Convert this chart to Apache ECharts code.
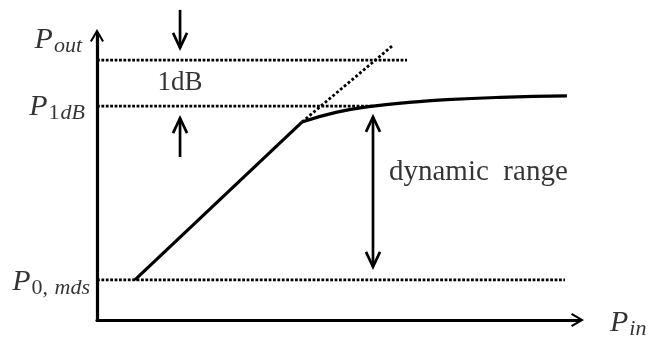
<!DOCTYPE html>
<html>
<head>
<meta charset="utf-8">
<title>Amplifier gain compression and dynamic range</title>
<script src="https://cdn.jsdelivr.net/npm/echarts@6/dist/echarts.min.js"></script>
<style>
  html, body { margin: 0; padding: 0; background: #ffffff; }
  #chart { width: 650px; height: 340px; }
</style>
</head>
<body>
<div id="chart"></div>
<script>
// Axis extents (arbitrary dB-like units for input and output power)
const pinRange = [0, 100];
const poutRange = [0, 100];

// Output power levels marked on the vertical axis
const levelPout = 91.5;   // P_out reference line (1 dB above P1dB)
const levelP1dB = 75.3;   // 1 dB compression point
const levelPmds = 14.1;   // minimum detectable signal

// How far each dotted level line runs along the input axis
const levelPoutEnd = 64.6;
const levelP1dBEnd = 57.5;
const levelPmdsEnd = 97.5;

// Linear (small-signal) part of the transfer curve
const linearPin = [7.9, 42.7];
const linearPout = [14.1, 69.7];

// Compressed part of the transfer curve, from the knee to saturation
const compPin = [42.7, 50.0, 57.5, 65.0, 72.9, 84.0, 97.9];
const compPout = [69.7, 73.2, 75.3, 76.6, 77.6, 78.4, 78.9];

// Extrapolated ideal linear response (dotted)
const idealPin = [42.7, 61.7];
const idealPout = [69.7, 96.8];

// Arrows: tail and tip positions
const gapArrowX = 17.3;
const gapArrowDown = [109.2, 95.8];
const gapArrowUp = [57.4, 71.1];
const rangeArrowX = 57.5;
const rangeArrowEnds = [18.7, 71.5];

// Text
const axisOutSub = 'out';
const axisInSub = 'in';
const p1dBSubNum = '1';
const p1dBSubUnit = 'dB';
const pmdsSubNum = '0, ';
const pmdsSubName = 'mds';
const gapText = '1dB';
const rangeText = 'dynamic  range';

const serif = "'Liberation Serif', 'Times New Roman', serif";
const zip = (xs, ys) => xs.map((x, i) => [x, ys[i]]);

// Open arrowhead with a short stem, pointing up in its own box
const arrowPath = 'path://M10,0 L20,17 L17.4,18.6 L11.5,8.1 L11.5,20 L8.5,20 L8.5,8.1 L2.6,18.6 L0,17 Z';

const richStyles = {
  P:   { fontFamily: serif, fontSize: 30, fontStyle: 'italic', color: '#000', lineHeight: 34 },
  sub: { fontFamily: serif, fontSize: 22, fontStyle: 'italic', color: '#000', lineHeight: 22, padding: [12, 0, 0, 1] },
  subUp: { fontFamily: serif, fontSize: 22, fontStyle: 'normal', color: '#000', lineHeight: 22, padding: [12, 0, 0, 1] }
};

function dottedLevel(name, level, end) {
  return {
    name: name, type: 'line', data: [[pinRange[0], level], [end, level]],
    symbol: 'none', silent: true, z: 2,
    lineStyle: { color: '#000', width: 2.8, type: [2.8, 1.6], cap: 'butt' }
  };
}

function renderArrow(params, api) {
  const a = api.coord([api.value(0), api.value(1)]);
  const b = api.coord([api.value(2), api.value(3)]);
  const both = api.value(4) === 2;
  const style = { stroke: '#000', lineWidth: 2.7, fill: null, lineJoin: 'miter' };
  const head = (tip, from) => {
    const dx = tip[0] - from[0], dy = tip[1] - from[1];
    const len = Math.hypot(dx, dy);
    const ux = dx / len, uy = dy / len;
    const L = 15, W = 7;
    return {
      type: 'polyline',
      shape: { points: [
        [tip[0] - L * ux - W * uy, tip[1] - L * uy + W * ux],
        tip,
        [tip[0] - L * ux + W * uy, tip[1] - L * uy - W * ux]
      ] },
      style: style
    };
  };
  const children = [{ type: 'polyline', shape: { points: [a, b] }, style: style }, head(b, a)];
  if (both) children.push(head(a, b));
  return { type: 'group', children: children };
}

const chart = echarts.init(document.getElementById('chart'), null, { renderer: 'canvas' });

chart.setOption({
  animation: false,
  backgroundColor: '#ffffff',
  grid: { left: 97, right: 73, top: 36, bottom: 20, containLabel: false },
  xAxis: {
    type: 'value', min: pinRange[0], max: pinRange[1],
    axisLine: { show: true, onZero: false, symbol: ['none', arrowPath], symbolSize: [14, 15],
                lineStyle: { color: '#000', width: 3.2 } },
    axisTick: { show: false }, axisLabel: { show: false }, splitLine: { show: false }
  },
  yAxis: {
    type: 'value', min: poutRange[0], max: poutRange[1],
    axisLine: { show: true, onZero: false, symbol: ['none', arrowPath], symbolSize: [14, 14],
                lineStyle: { color: '#000', width: 3.2 } },
    axisTick: { show: false }, axisLabel: { show: false }, splitLine: { show: false }
  },
  series: [
    dottedLevel('Pout level', levelPout, levelPoutEnd),
    dottedLevel('P1dB level', levelP1dB, levelP1dBEnd),
    dottedLevel('Pmds level', levelPmds, levelPmdsEnd),
    {
      name: 'ideal', type: 'line', data: zip(idealPin, idealPout), symbol: 'none', silent: true, z: 2,
      lineStyle: { color: '#000', width: 2.8, type: [2.8, 2.2], cap: 'butt' }
    },
    {
      name: 'linear', type: 'line', data: zip(linearPin, linearPout), symbol: 'none', silent: true, z: 3,
      lineStyle: { color: '#000', width: 3.2 }
    },
    {
      name: 'compression', type: 'line', data: zip(compPin, compPout), symbol: 'none', silent: true, z: 3,
      smooth: 0.5,
      lineStyle: { color: '#000', width: 3.2 }
    },
    {
      name: 'arrows', type: 'custom', clip: false, silent: true, z: 4,
      renderItem: renderArrow,
      data: [
        [gapArrowX, gapArrowDown[0], gapArrowX, gapArrowDown[1], 1],
        [gapArrowX, gapArrowUp[0], gapArrowX, gapArrowUp[1], 1],
        [rangeArrowX, rangeArrowEnds[0], rangeArrowX, rangeArrowEnds[1], 2]
      ]
    },
    {
      name: 'labels', type: 'scatter', symbolSize: 0, silent: true, z: 5, clip: false,
      label: { show: true, color: '#000', rich: richStyles },
      data: [
        { value: [pinRange[0], levelPout],
          label: { position: 'left', distance: 0, offset: [-15, -20.2], formatter: '{P|P}{sub|' + axisOutSub + '}' } },
        { value: [pinRange[0], levelP1dB],
          label: { position: 'left', distance: 0, offset: [-12, 0.8], formatter: '{P|P}{subUp|' + p1dBSubNum + '}{sub|' + p1dBSubUnit + '}' } },
        { value: [pinRange[0], levelPmds],
          label: { position: 'left', distance: 0, offset: [-7, 1.9], formatter: '{P|P}{subUp|' + pmdsSubNum + '}{sub|' + pmdsSubName + '}' } },
        { value: [pinRange[1], poutRange[0]],
          label: { position: 'right', distance: 0, offset: [33, 2.9], formatter: '{P|P}{sub|' + axisInSub + '}' } },
        { value: [gapArrowX, (levelPout + levelP1dB) / 2],
          label: { position: 'inside', offset: [0, -0.3], formatter: gapText,
                   fontFamily: serif, fontSize: 27, color: '#000' } },
        { value: [rangeArrowX, 51.9],
          label: { position: 'right', distance: 0, offset: [16, 0], formatter: rangeText,
                   fontFamily: serif, fontSize: 29, color: '#000' } }
      ]
    }
  ]
});
</script>
</body>
</html>
